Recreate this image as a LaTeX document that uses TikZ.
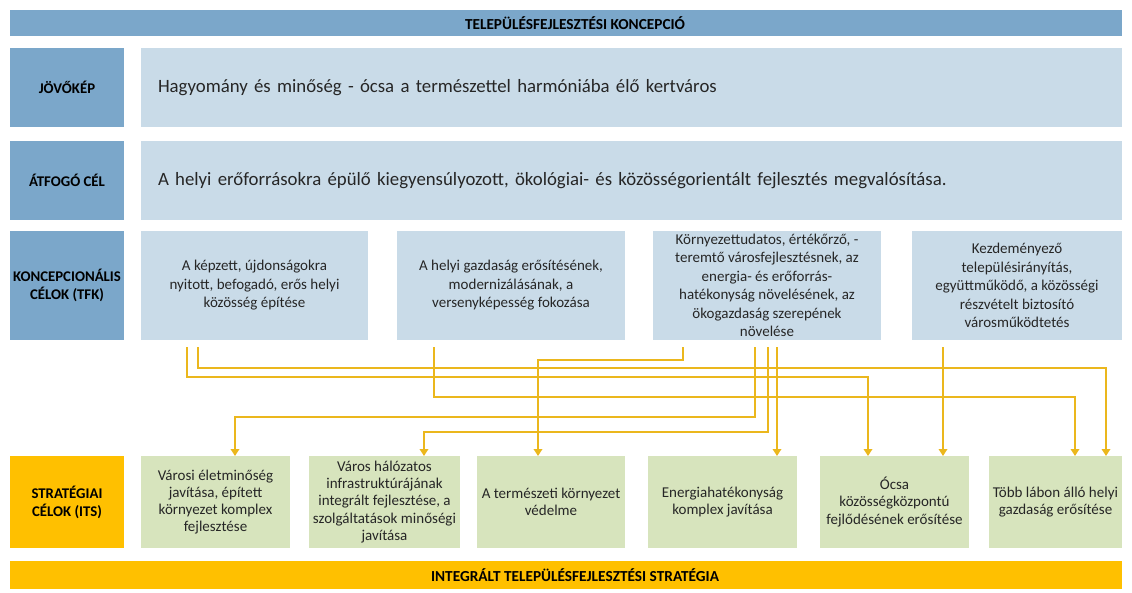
\documentclass[tikz,border=0pt]{standalone}
\usepackage{fontspec}
\setmainfont{Carlito}
\usetikzlibrary{arrows.meta,calc}
\definecolor{bandblue}{HTML}{7BA7CA}
\definecolor{lightblue}{HTML}{C9DBE8}
\definecolor{lightgreen}{HTML}{D7E4BD}
\definecolor{gold}{HTML}{FFC000}
\definecolor{linegold}{HTML}{EBB71D}
\definecolor{txt}{HTML}{262626}
\begin{document}
\begin{tikzpicture}[x=1pt,y=-1pt,
  boxbase/.style={anchor=north west, inner sep=2pt, outer sep=0pt, text=txt, align=center},
  topband/.style={boxbase, fill=bandblue, minimum width=1112pt, minimum height=26pt, font=\bfseries\fontsize{15.3}{17}\selectfont, text=black},
  botband/.style={boxbase, fill=gold, minimum width=1112pt, minimum height=28pt, font=\bfseries\fontsize{15.3}{17}\selectfont, text=black},
  labelbox/.style={boxbase, inner xsep=0pt, fill=bandblue, minimum width=114pt, font=\bfseries\fontsize{14.8}{18}\selectfont, text=black},
  stratbox/.style={boxbase, inner xsep=0pt, fill=gold, minimum width=114pt, font=\bfseries\fontsize{14.8}{18}\selectfont, text=black},
  widebox/.style={boxbase, fill=lightblue, minimum width=981pt, minimum height=79pt, inner xsep=17pt, text width=947pt, align=left, font=\fontsize{18.8}{22}\selectfont},
  tfkbox/.style={boxbase, fill=lightblue, minimum height=109pt, font=\fontsize{15}{18.5}\selectfont},
  itsbox/.style={boxbase, inner xsep=0pt, fill=lightgreen, minimum height=92pt, font=\fontsize{15}{17.2}\selectfont},
  conn/.style={draw=linegold, line width=2.3pt, -{Triangle[length=7pt,width=8.5pt]}}
]
\useasboundingbox (0,0) rectangle (1132,592);
\fill[white] (0,0) rectangle (1132,592);

\node[topband] (tfkc) at (10,10) {\hspace*{18pt}TELEPÜLÉSFEJLESZTÉSI KONCEPCIÓ};

\node[labelbox, minimum height=79pt] (l1) at (10,48) {JÖVŐKÉP};
\node[widebox] (jk) at (141,48) {Hagyomány és minőség - ócsa a természettel harmóniába élő kertváros};

\node[labelbox, minimum height=79pt] (l2) at (10,141) {ÁTFOGÓ CÉL};
\node[widebox] (ac) at (141,141) {A helyi erőforrásokra épülő kiegyensúlyozott, ökológiai- és közösségorientált fejlesztés megvalósítása.};

\node[labelbox, minimum height=109pt] (l3) at (10,231) {KONCEPCIONÁLIS\\CÉLOK (TFK)};
\node[tfkbox, minimum width=227pt] (b1) at (141,231) {A képzett, újdonságokra\\nyitott, befogadó, erős helyi\\közösség építése};
\node[tfkbox, minimum width=228pt] (b2) at (397,231) {A helyi gazdaság erősítésének,\\modernizálásának, a\\versenyképesség fokozása};
\node[tfkbox, minimum width=228pt] (b3) at (653,231) {Környezettudatos, értékőrző, -\\teremtő városfejlesztésnek, az\\energia- és erőforrás-\\hatékonyság növelésének, az\\ökogazdaság szerepének\\növelése};
\node[tfkbox, minimum width=210pt] (b4) at (912,231) {Kezdeményező\\településirányítás,\\együttműködő, a közösségi\\részvételt biztosító\\városműködtetés};

\node[stratbox, minimum height=92pt] (l4) at (10,456) {STRATÉGIAI\\CÉLOK (ITS)};
\node[itsbox, minimum width=149pt] (g1) at (141,456) {Városi életminőség\\javítása, épített\\környezet komplex\\fejlesztése};
\node[itsbox, minimum width=151pt] (g2) at (309,456) {Város hálózatos\\infrastruktúrájának\\integrált fejlesztése, a\\szolgáltatások minőségi\\javítása};
\node[itsbox, minimum width=148pt] (g3) at (477,456) {A természeti környezet\\védelme};
\node[itsbox, minimum width=149pt] (g4) at (648,456) {Energiahatékonyság\\komplex javítása};
\node[itsbox, minimum width=149pt] (g5) at (820,456) {Ócsa\\közösségközpontú\\fejlődésének erősítése};
\node[itsbox, minimum width=133pt] (g6) at (989,456) {Több lábon álló helyi\\gazdaság erősítése};

\node[botband] (its) at (10,561) {\hspace*{18pt}INTEGRÁLT TELEPÜLÉSFEJLESZTÉSI STRATÉGIA};

% connectors
\draw[conn] ($(b1.south west)+(46,7)$) |- ($(g5.north west)+(48,-79)$) -- ($(g5.north west)+(48,0)$);
\draw[conn] ($(b1.south west)+(57,7)$) |- ($(g6.north west)+(117,-88)$) -- ($(g6.north west)+(117,0)$);
\draw[conn] ($(b2.south west)+(37,7)$) |- ($(g6.north west)+(86,-59)$) -- ($(g6.north west)+(86,0)$);
\draw[conn] ($(b3.south west)+(30,7)$) |- ($(g3.north west)+(61,-96)$) -- ($(g3.north west)+(61,0)$);
\draw[conn] ($(b3.south west)+(102,7)$) |- ($(g1.north west)+(94,-39)$) -- ($(g1.north west)+(94,0)$);
\draw[conn] ($(b3.south west)+(115,7)$) |- ($(g2.north west)+(115,-24)$) -- ($(g2.north west)+(115,0)$);
\draw[conn] ($(b3.south west)+(124,7)$) -- ($(g4.north west)+(129,0)$);
\draw[conn] ($(b4.south west)+(31,7)$) -- ($(g5.north west)+(123,0)$);
\end{tikzpicture}
\end{document}
